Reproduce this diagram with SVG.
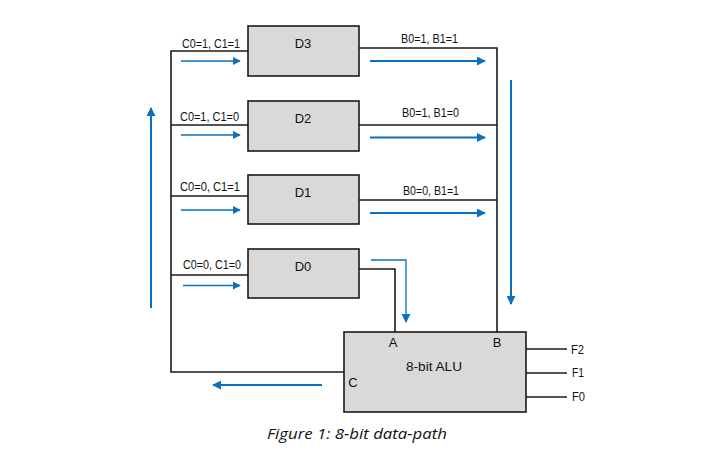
<svg xmlns="http://www.w3.org/2000/svg" width="716" height="456" viewBox="0 0 716 456">
<style>
.box{fill:#d9d9d9;stroke:#1a1a1a;stroke-width:1.6}
.w{fill:none;stroke:#1a1a1a;stroke-width:1.6}
.b{fill:none;stroke:#0a70c0;stroke-width:1.3}
.bt{fill:none;stroke:#0a70c0;stroke-width:2}
.t{font-family:"Liberation Sans",Arial,sans-serif;font-size:13px;fill:#111}
.n{font-family:"Liberation Sans",Arial,sans-serif;font-size:13px;fill:#111;text-anchor:middle}
.cap{font-family:"Open Sans","Liberation Sans",sans-serif;font-style:italic;font-size:14.5px;fill:#111}
</style>
<defs>
<marker id="ah" viewBox="0 0 10 10" refX="9" refY="5" markerWidth="8" markerHeight="8" markerUnits="userSpaceOnUse" orient="auto">
<path d="M0,0 L10,5 L0,10 Z" fill="#0a70c0"/>
</marker>
<marker id="ahb" viewBox="0 0 10 10" refX="9" refY="5" markerWidth="9" markerHeight="9" markerUnits="userSpaceOnUse" orient="auto">
<path d="M0,0 L10,5 L0,10 Z" fill="#0a70c0"/>
</marker>
</defs>
<rect width="716" height="456" fill="#fff"/>
<g id="connectors">
<path class="w" d="M248,51 H171 V372 H344"/>
<path class="w" d="M171,125 H248"/>
<path class="w" d="M171,196 H248"/>
<path class="w" d="M171,275 H248"/>
<path class="w" d="M359,48 H497 V332"/>
<path class="w" d="M359,125 H497"/>
<path class="w" d="M359,200 H497"/>
<path class="w" d="M359,269 H395 V332"/>
<path class="w" d="M526,349 H567"/>
<path class="w" d="M526,373 H567"/>
<path class="w" d="M526,397 H567"/>
<path class="b" d="M181,61 H240" marker-end="url(#ah)"/>
<path class="b" d="M181,135 H240" marker-end="url(#ah)"/>
<path class="b" d="M181,210 H240" marker-end="url(#ah)"/>
<path class="b" d="M183,285.5 H240" marker-end="url(#ah)"/>
<path class="bt" d="M370,61 H485" marker-end="url(#ahb)"/>
<path class="bt" d="M370,137.5 H485" marker-end="url(#ahb)"/>
<path class="bt" d="M370,213 H485" marker-end="url(#ahb)"/>
<path class="b" d="M371,260 H406 V322" marker-end="url(#ahb)"/>
<path class="bt" d="M511,80 V304" marker-end="url(#ahb)"/>
<path class="bt" d="M151,308 V108" marker-end="url(#ahb)"/>
<path class="bt" d="M322,385 H213" marker-end="url(#ahb)"/>
</g>
<g id="D3">
<rect class="box" x="248" y="26" width="111" height="50"/>
<text class="n" x="303" y="48">D3</text>
</g>
<g id="D2">
<rect class="box" x="248" y="101" width="111" height="50"/>
<text class="n" x="303" y="123">D2</text>
</g>
<g id="D1">
<rect class="box" x="248" y="175" width="111" height="49"/>
<text class="n" x="303" y="197">D1</text>
</g>
<g id="D0">
<rect class="box" x="248" y="249" width="111" height="49"/>
<text class="n" x="303" y="271">D0</text>
</g>
<g id="ALU">
<rect class="box" x="344" y="332" width="182" height="80"/>
<text class="t" x="393" y="347" text-anchor="middle">A</text>
<text class="t" x="497" y="347" text-anchor="middle">B</text>
<text class="t" x="353" y="387" text-anchor="middle">C</text>
<text class="n" x="434" y="371" font-size="15" textLength="56" lengthAdjust="spacingAndGlyphs">8-bit ALU</text>
</g>
<g id="labels">
<text class="t" x="182" y="48" textLength="58" lengthAdjust="spacingAndGlyphs">C0=1, C1=1</text>
<text class="t" x="180" y="121" textLength="59" lengthAdjust="spacingAndGlyphs">C0=1, C1=0</text>
<text class="t" x="180" y="191" textLength="60" lengthAdjust="spacingAndGlyphs">C0=0, C1=1</text>
<text class="t" x="183" y="269" textLength="58" lengthAdjust="spacingAndGlyphs">C0=0, C1=0</text>
<text class="t" x="401" y="43" textLength="57" lengthAdjust="spacingAndGlyphs">B0=1, B1=1</text>
<text class="t" x="402" y="117" textLength="57" lengthAdjust="spacingAndGlyphs">B0=1, B1=0</text>
<text class="t" x="403" y="195" textLength="56" lengthAdjust="spacingAndGlyphs">B0=0, B1=1</text>
<text class="t" x="571" y="354" textLength="13" lengthAdjust="spacingAndGlyphs">F2</text>
<text class="t" x="572" y="377" textLength="12" lengthAdjust="spacingAndGlyphs">F1</text>
<text class="t" x="572" y="401" textLength="13" lengthAdjust="spacingAndGlyphs">F0</text>
</g>
<text class="cap" x="267" y="439" textLength="180" lengthAdjust="spacingAndGlyphs">Figure 1: 8-bit data-path</text>
</svg>
